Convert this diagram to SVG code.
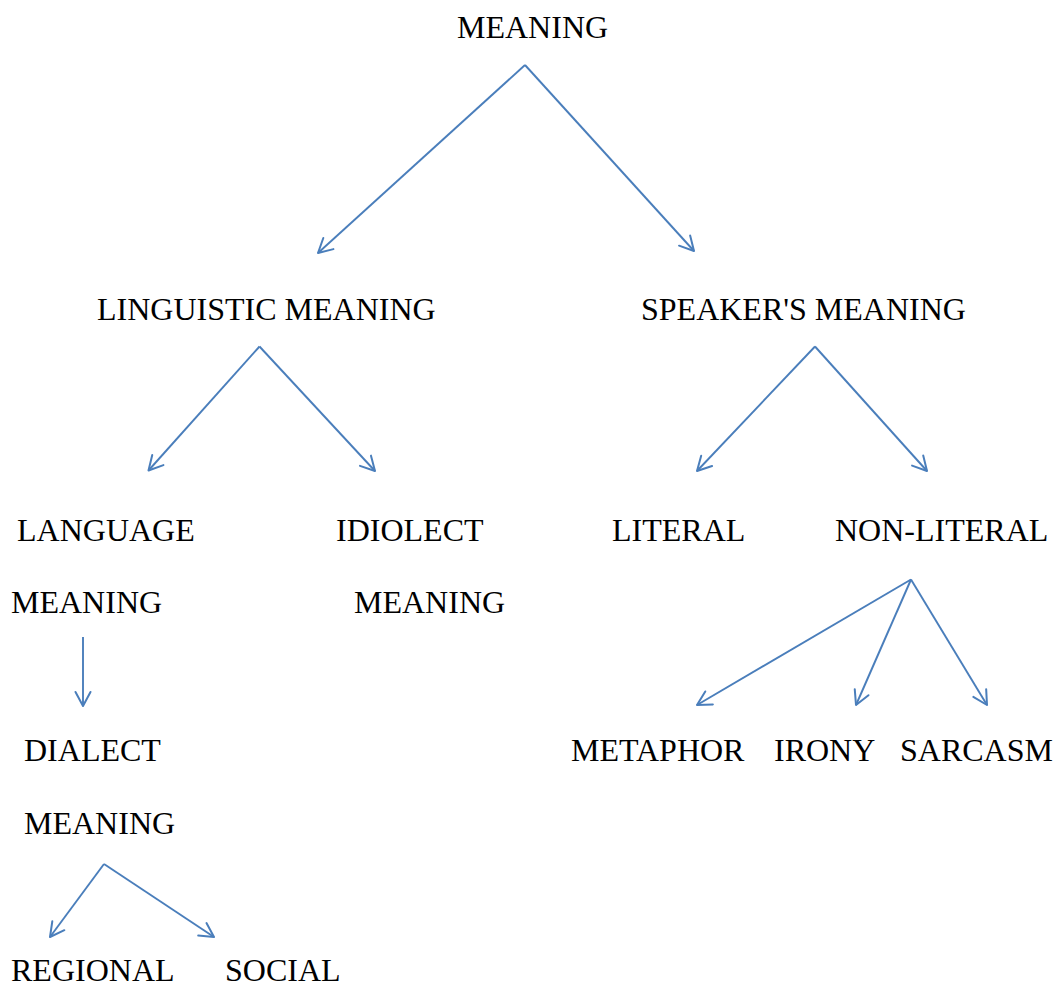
<svg xmlns="http://www.w3.org/2000/svg" width="1060" height="987" viewBox="0 0 1060 987">
  <style>
    .lbl { font-family: "Liberation Serif", "Times New Roman", serif; font-size: 32px; fill: #000; }
    .edge { stroke: #4a7ebb; stroke-width: 1.9; fill: none; marker-end: url(#chevron); }
  </style>
  <defs>
    <!-- open V-shaped arrowhead shared by every connector -->
    <marker id="chevron" markerUnits="userSpaceOnUse" markerWidth="20" markerHeight="20" viewBox="-16 -10 20 20" refX="0" refY="0" orient="auto">
      <path d="M -14,-7.5 L 0,0 L -14,7.5" fill="none" stroke="#4a7ebb" stroke-width="2" stroke-linecap="round" stroke-linejoin="round"/>
    </marker>
  </defs>
  <rect width="1060" height="987" fill="#fff"/>

  <g id="connectors">
    <line class="edge" x1="525" y1="65" x2="318" y2="253"/>
    <line class="edge" x1="525" y1="65" x2="694" y2="251"/>
    <line class="edge" x1="259.5" y1="346.5" x2="148.5" y2="470.5"/>
    <line class="edge" x1="259.5" y1="346.5" x2="375" y2="471"/>
    <line class="edge" x1="815" y1="346.5" x2="697" y2="471"/>
    <line class="edge" x1="815" y1="346.5" x2="927" y2="471"/>
    <line class="edge" x1="911" y1="579.5" x2="697" y2="705"/>
    <line class="edge" x1="911" y1="579.5" x2="856" y2="705"/>
    <line class="edge" x1="911" y1="579.5" x2="987" y2="705"/>
    <line class="edge" x1="83" y1="637" x2="83" y2="706"/>
    <line class="edge" x1="104" y1="864" x2="50" y2="937"/>
    <line class="edge" x1="104" y1="864" x2="214" y2="937"/>
  </g>

  <g id="meaning"><text class="lbl" x="457" y="38">MEANING</text></g>
  <g id="linguistic-meaning"><text class="lbl" x="97" y="320">LINGUISTIC MEANING</text></g>
  <g id="speakers-meaning"><text class="lbl" x="641" y="320">SPEAKER'S MEANING</text></g>
  <g id="language-meaning">
    <text class="lbl" x="17" y="541">LANGUAGE</text>
    <text class="lbl" x="11" y="613">MEANING</text>
  </g>
  <g id="idiolect-meaning">
    <text class="lbl" x="336" y="541">IDIOLECT</text>
    <text class="lbl" x="354" y="613">MEANING</text>
  </g>
  <g id="literal"><text class="lbl" x="612" y="541">LITERAL</text></g>
  <g id="non-literal"><text class="lbl" x="835" y="541">NON-LITERAL</text></g>
  <g id="dialect-meaning">
    <text class="lbl" x="24" y="761">DIALECT</text>
    <text class="lbl" x="24" y="834">MEANING</text>
  </g>
  <g id="metaphor"><text class="lbl" x="571" y="761">METAPHOR</text></g>
  <g id="irony"><text class="lbl" x="774" y="761">IRONY</text></g>
  <g id="sarcasm"><text class="lbl" x="900" y="761">SARCASM</text></g>
  <g id="regional"><text class="lbl" x="11" y="981">REGIONAL</text></g>
  <g id="social"><text class="lbl" x="225" y="981">SOCIAL</text></g>
</svg>
